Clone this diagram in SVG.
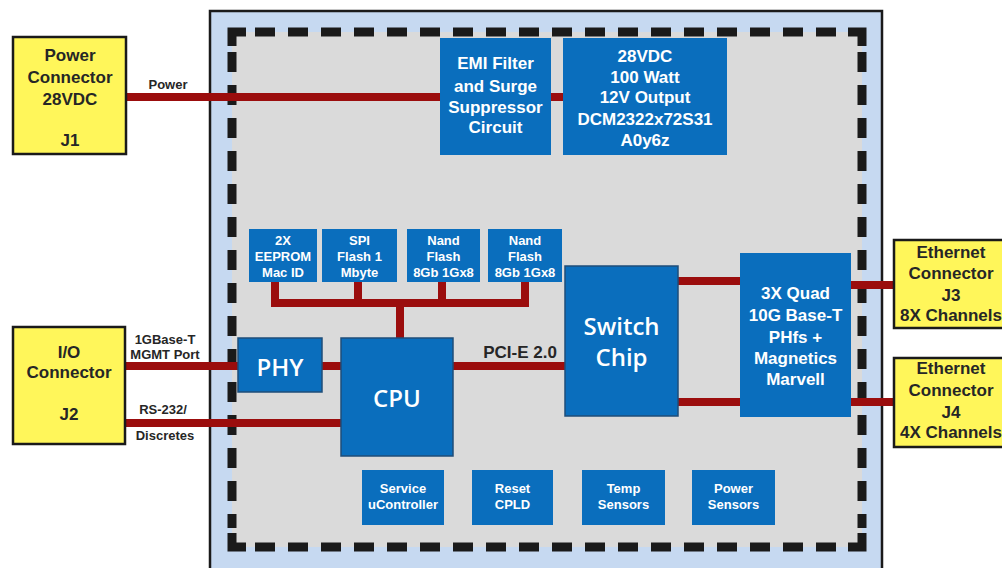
<svg xmlns="http://www.w3.org/2000/svg" width="1002" height="568" viewBox="0 0 1002 568">
<style>
.conn{fill:#FFF65A;stroke:#1a1a1a;stroke-width:2.5}
.blk{fill:#0A6EBD}
.blk2{fill:#0A6EBD;stroke:#1F4E79;stroke-width:1.5}
.t{font-family:"Liberation Sans",Arial,sans-serif;font-weight:bold;text-anchor:middle}
.ty{fill:#262626;font-size:17px}
.tw{fill:#ffffff;font-size:17px}
.ts{fill:#ffffff;font-size:13px}
.tl{fill:#262626;font-size:13px}
.tc{font-family:"Open Sans","Noto Sans",sans-serif;font-weight:600;fill:#ffffff;font-size:24px;text-anchor:middle}
.w{stroke:#9B0D0D;stroke-width:8;fill:none}
.d{stroke:#1a1a1a;stroke-width:9;fill:none}
.dd{stroke:#1a1a1a;stroke-width:9;fill:none;stroke-dasharray:20 13}
</style>
<rect width="1002" height="568" fill="#ffffff"/>
<g id="board">
<rect x="210" y="11" width="672" height="580" fill="#C6D9F1" stroke="#1a1a1a" stroke-width="2.5"/>
<rect x="232" y="32" width="630" height="515" fill="#DADADA"/>
<polyline class="d" points="232,46 232,32 246,32"/>
<polyline class="d" points="848,32 862,32 862,46"/>
<polyline class="d" points="232,533 232,547 246,547"/>
<polyline class="d" points="848,547 862,547 862,533"/>
<line class="dd" x1="255" y1="32" x2="840" y2="32"/>
<line class="dd" x1="255" y1="547" x2="840" y2="547"/>
<line class="dd" x1="232" y1="52" x2="232" y2="528"/>
<line class="dd" x1="862" y1="52" x2="862" y2="528"/>
</g>
<g id="connectors">
<line class="w" x1="126" y1="97" x2="440" y2="97"/>
<line class="w" x1="551" y1="97" x2="563" y2="97"/>
<line class="w" x1="125" y1="366" x2="238" y2="366"/>
<line class="w" x1="322" y1="366" x2="341" y2="366"/>
<line class="w" x1="125" y1="423" x2="341" y2="423"/>
<line class="w" x1="453" y1="366" x2="565" y2="366"/>
<polyline class="w" points="275,282 275,303 525,303 525,282"/>
<line class="w" x1="358" y1="282" x2="358" y2="303"/>
<line class="w" x1="442" y1="282" x2="442" y2="303"/>
<line class="w" x1="400" y1="303" x2="400" y2="338"/>
<line class="w" x1="678" y1="281" x2="740" y2="281"/>
<line class="w" x1="678" y1="402" x2="740" y2="402"/>
<line class="w" x1="851" y1="285" x2="894" y2="285"/>
<line class="w" x1="851" y1="402" x2="894" y2="402"/>
<text class="t tl" x="168" y="89">Power</text>
<text class="t tl" x="165" y="344">1GBase-T</text>
<text class="t tl" x="165" y="359">MGMT Port</text>
<text class="t tl" x="163" y="414">RS-232/</text>
<text class="t tl" x="165" y="440">Discretes</text>
<text class="t ty" x="520" y="358">PCI-E 2.0</text>
</g>
<g id="j1">
<rect class="conn" x="13" y="37" width="113" height="117"/>
<text class="t ty" x="70" y="61">Power</text>
<text class="t ty" x="70" y="83">Connector</text>
<text class="t ty" x="70" y="105">28VDC</text>
<text class="t ty" x="70" y="146">J1</text>
</g>
<g id="j2">
<rect class="conn" x="13" y="327" width="112" height="117"/>
<text class="t ty" x="69" y="358">I/O</text>
<text class="t ty" x="69" y="378">Connector</text>
<text class="t ty" x="69" y="420">J2</text>
</g>
<g id="j3">
<rect class="conn" x="894" y="240" width="120" height="88"/>
<text class="t ty" x="951" y="258">Ethernet</text>
<text class="t ty" x="951" y="279">Connector</text>
<text class="t ty" x="951" y="301">J3</text>
<text class="t ty" x="951" y="321">8X Channels</text>
</g>
<g id="j4">
<rect class="conn" x="894" y="358" width="120" height="89"/>
<text class="t ty" x="951" y="374">Ethernet</text>
<text class="t ty" x="951" y="396">Connector</text>
<text class="t ty" x="951" y="418">J4</text>
<text class="t ty" x="951" y="438">4X Channels</text>
</g>
<g id="emi">
<rect class="blk" x="440" y="38" width="111" height="117"/>
<text class="t tw" x="495.5" y="69">EMI Filter</text>
<text class="t tw" x="495.5" y="92">and Surge</text>
<text class="t tw" x="495.5" y="113">Suppressor</text>
<text class="t tw" x="495.5" y="133">Circuit</text>
</g>
<g id="dcm">
<rect class="blk" x="563" y="38" width="164" height="117"/>
<text class="t tw" x="645" y="62">28VDC</text>
<text class="t tw" x="645" y="83">100 Watt</text>
<text class="t tw" x="645" y="103">12V Output</text>
<text class="t tw" x="645" y="125">DCM2322x72S31</text>
<text class="t tw" x="645" y="146">A0y6z</text>
</g>
<g id="eeprom">
<rect class="blk" x="249" y="229" width="68" height="53"/>
<text class="t ts" x="283" y="245">2X</text>
<text class="t ts" x="283" y="261">EEPROM</text>
<text class="t ts" x="283" y="277">Mac ID</text>
</g>
<g id="spi">
<rect class="blk" x="322" y="229" width="75" height="53"/>
<text class="t ts" x="359.5" y="245">SPI</text>
<text class="t ts" x="359.5" y="261">Flash 1</text>
<text class="t ts" x="359.5" y="277">Mbyte</text>
</g>
<g id="nand1">
<rect class="blk" x="407" y="229" width="73" height="53"/>
<text class="t ts" x="443.5" y="245">Nand</text>
<text class="t ts" x="443.5" y="261">Flash</text>
<text class="t ts" x="443.5" y="277">8Gb 1Gx8</text>
</g>
<g id="nand2">
<rect class="blk" x="488" y="229" width="74" height="53"/>
<text class="t ts" x="525" y="245">Nand</text>
<text class="t ts" x="525" y="261">Flash</text>
<text class="t ts" x="525" y="277">8Gb 1Gx8</text>
</g>
<g id="phy">
<rect class="blk2" x="238" y="338" width="84" height="54"/>
<text class="tc" x="280" y="376">PHY</text>
</g>
<g id="cpu">
<rect class="blk2" x="341" y="338" width="112" height="118"/>
<text class="tc" x="397" y="407">CPU</text>
</g>
<g id="switch">
<rect class="blk2" x="565" y="266" width="113" height="150"/>
<text class="tc" x="621.5" y="335">Switch</text>
<text class="tc" x="621.5" y="366">Chip</text>
</g>
<g id="quad">
<rect class="blk" x="740" y="253" width="111" height="164"/>
<text class="t tw" x="795.5" y="299">3X Quad</text>
<text class="t tw" x="795.5" y="321">10G Base-T</text>
<text class="t tw" x="795.5" y="343">PHfs +</text>
<text class="t tw" x="795.5" y="364">Magnetics</text>
<text class="t tw" x="795.5" y="385">Marvell</text>
</g>
<g id="service">
<rect class="blk" x="362" y="470" width="82" height="55"/>
<text class="t ts" x="403" y="493">Service</text>
<text class="t ts" x="403" y="509">uController</text>
</g>
<g id="reset">
<rect class="blk" x="472" y="470" width="81" height="55"/>
<text class="t ts" x="512.5" y="493">Reset</text>
<text class="t ts" x="512.5" y="509">CPLD</text>
</g>
<g id="temp">
<rect class="blk" x="582" y="470" width="83" height="55"/>
<text class="t ts" x="623.5" y="493">Temp</text>
<text class="t ts" x="623.5" y="509">Sensors</text>
</g>
<g id="powersensors">
<rect class="blk" x="692" y="470" width="83" height="55"/>
<text class="t ts" x="733.5" y="493">Power</text>
<text class="t ts" x="733.5" y="509">Sensors</text>
</g>
</svg>
